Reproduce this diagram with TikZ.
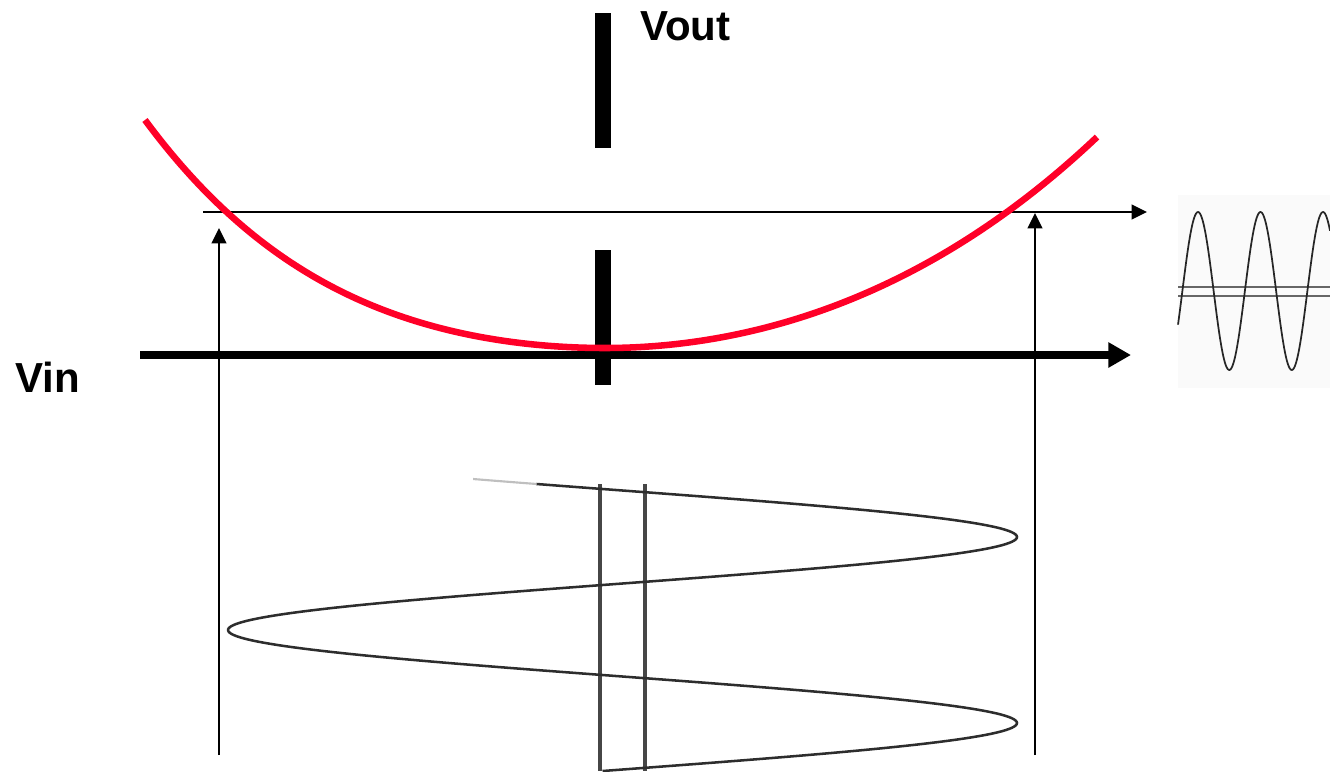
\documentclass[tikz,border=0pt]{standalone}
\usepackage{fontspec}
\setmainfont{Liberation Sans}
\usetikzlibrary{arrows.meta}
\definecolor{curvered}{RGB}{255,0,40}
\definecolor{scan}{RGB}{45,45,45}
\definecolor{scanbar}{RGB}{70,70,70}
\begin{document}
\begin{tikzpicture}[x=0.75pt,y=-0.75pt,
  axisbar/.style={line width=12pt,line cap=butt},
  mainaxis/.style={line width=6pt,-{Triangle[length=17pt,width=18pt]}},
  thinarrow/.style={line width=1.5pt,-{Triangle[length=11.5pt,width=11pt]}},
  redcurve/.style={draw=curvered,line width=4.9pt},
  scanline/.style={draw=scan,line width=1.9pt},
  scanbarline/.style={draw=scanbar,line width=2.4pt},
  smallwave/.style={draw=black!85,line width=1.3pt},
  label/.style={font=\fontsize{31.5}{36}\selectfont\bfseries,inner sep=0pt,anchor=base west}]
\useasboundingbox (0,0) rectangle (1330,771);

% small oscilloscope picture (right)
\fill[black!2] (1178,195) rectangle (1330,388);
\coordinate (h1a) at (1178,287); \coordinate (h1b) at (1330,287);
\coordinate (h2a) at (1178,296); \coordinate (h2b) at (1330,296);
\draw[draw=black!60,line width=1.2pt] (h1a) -- (h1b);
\draw[draw=black!60,line width=1.2pt] (h2a) -- (h2b);
\draw[smallwave] plot[domain=1178:1330,samples=160] (\x,{291-79*cos(5.76*(\x-1198))});

% bottom input wave (sideways)
\coordinate (b1t) at (600,484); \coordinate (b1b) at (600,771);
\coordinate (b2t) at (645,484); \coordinate (b2b) at (645,771);
\draw[scanbarline] (b1t) -- (b1b);
\draw[scanbarline] (b2t) -- (b2b);
\draw[draw=black!25,line width=1.6pt] plot[domain=479:484,samples=10] ({622.5+394.5*cos(1.935484*(\x-537))},\x);
\draw[scanline] plot[domain=484:771,samples=240] ({622.5+394.5*cos(1.935484*(\x-537))},\x);

% vertical axis (Vout)
\coordinate (vt1) at (603,13); \coordinate (vb1) at (603,148);
\coordinate (vt2) at (603,250); \coordinate (vb2) at (603,385);
\draw[axisbar] (vt1) -- (vb1);
\draw[axisbar] (vt2) -- (vb2);

% horizontal axis (Vin)
\coordinate (hs) at (140,355); \coordinate (he) at (1131,355);
\draw[mainaxis] (hs) -- (he);

% thin output level arrow
\coordinate (ls) at (203,212); \coordinate (le) at (1147,212);
\draw[thinarrow] (ls) -- (le);

% vertical projection arrows
\coordinate (la) at (219,755); \coordinate (lt) at (219,228);
\coordinate (ra) at (1035,755); \coordinate (rt) at (1035,213);
\draw[thinarrow] (la) -- (lt);
\draw[thinarrow] (ra) -- (rt);

% transfer curve
\draw[redcurve] plot[domain=460:0,samples=90] ({605-\x},{348-6.83*(\x/100)^2-0.1865*(\x/100)^4})
  -- plot[domain=0:492,samples=90] ({605+\x},{348-7.815*(\x/100)^2-0.0372*(\x/100)^4});

% labels
\node[label] (vout) at (640,40) {Vout};
\node[label] (vin) at (15,392) {Vin};
\end{tikzpicture}
\end{document}
